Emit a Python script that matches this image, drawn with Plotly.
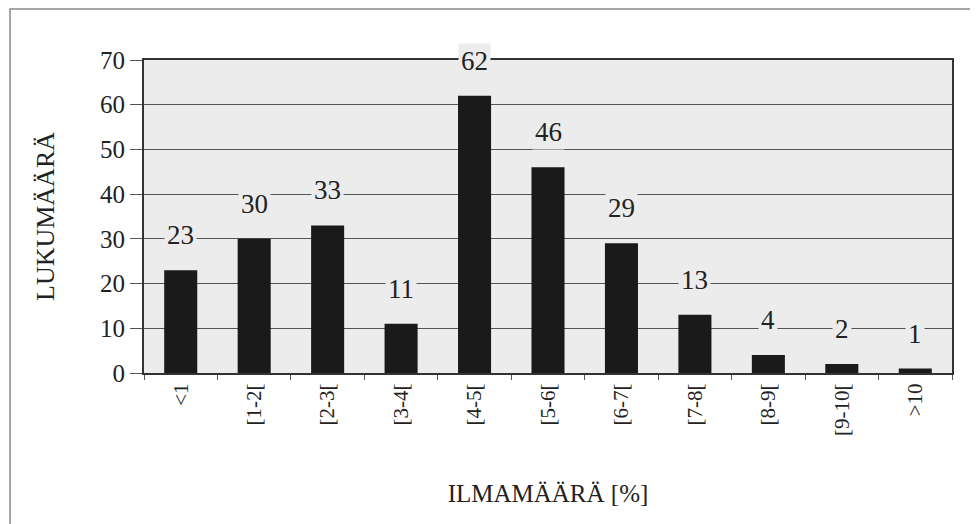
import plotly.graph_objects as go

# Ilmamäärän jakauma
luokat = ["<1", "[1-2[", "[2-3[", "[3-4[", "[4-5[", "[5-6[", "[6-7[", "[7-8[", "[8-9[", "[9-10[", ">10"]
lukumaara = [23, 30, 33, 11, 62, 46, 29, 13, 4, 2, 1]
y_ticks = [0, 10, 20, 30, 40, 50, 60, 70]

serif = "Liberation Serif, Times New Roman, serif"
tausta = "#ececec"

fig = go.Figure()
fig.add_trace(go.Bar(x=luokat, y=lukumaara, marker=dict(color="#1a1a1a", line=dict(width=0)),
                     showlegend=False, hoverinfo="x+y"))

#Data labels above the bars, background hides the gridlines
for k, v in zip(luokat, lukumaara):
    fig.add_annotation(x=k, y=v, text=str(v), showarrow=False, yshift=35,
                       font=dict(family=serif, size=27, color="#222"),
                       bgcolor=tausta, borderpad=2)

#Outer frame
fig.add_shape(type="rect", xref="paper", yref="paper", x0=-0.1658, x1=1.0285, y0=-0.56, y1=1.163,
              line=dict(color="#888", width=1.5), layer="below")

#page body has 8px margin -> 970x516
fig.update_layout(
    width=970, height=516,
    margin=dict(l=136, r=26, t=52, b=151),
    paper_bgcolor="white", plot_bgcolor=tausta,
    bargap=0.55,
    font=dict(family=serif, color="#222"),
)
fig.update_xaxes(
    title=dict(text="ILMAMÄÄRÄ [%]", font=dict(size=25), standoff=50),
    tickangle=-90, tickfont=dict(size=21),
    ticks="outside", ticklen=5, tickcolor="#555", tickson="boundaries",
    showline=True, linecolor="#333", linewidth=2, mirror=True, showgrid=False,
)
fig.update_yaxes(
    title=dict(text="LUKUMÄÄRÄ", font=dict(size=26), standoff=38),
    range=[0, 70], tickvals=y_ticks, tickfont=dict(size=25),
    ticks="outside", ticklen=12, tickcolor="#555",
    showline=True, linecolor="#333", linewidth=2, mirror=True,
    showgrid=True, gridcolor="#555", gridwidth=1, zeroline=False,
)

fig.write_html("out.html")
